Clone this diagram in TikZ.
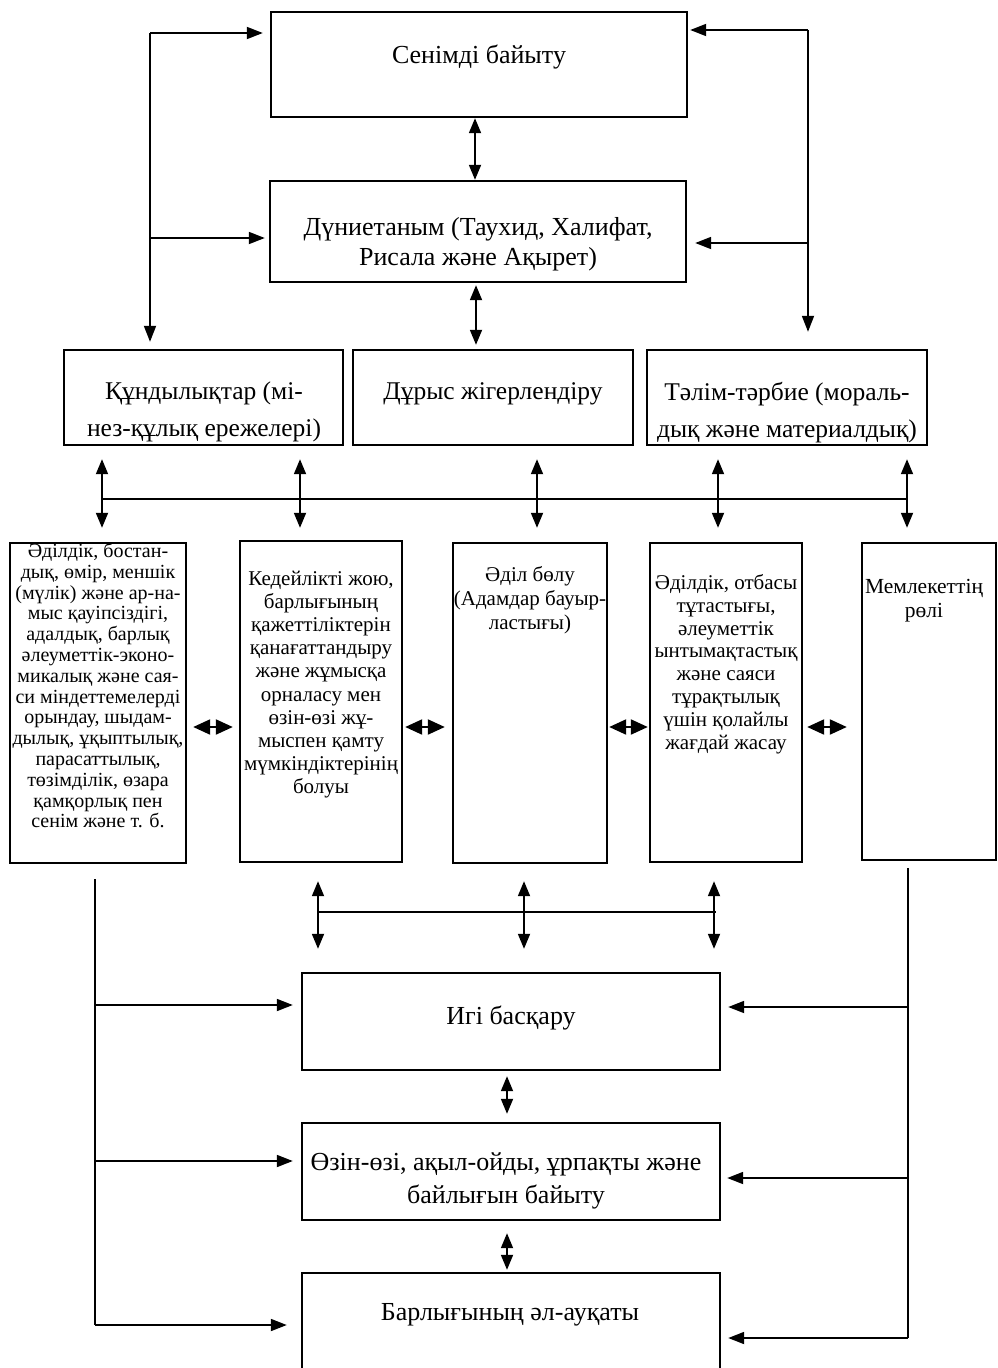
\documentclass[tikz,border=0pt]{standalone}
\usepackage{fontspec}
\setmainfont{Liberation Serif}
\usetikzlibrary{arrows.meta,fit}
\tikzset{
  box/.style={draw, line width=2.4pt, inner sep=0pt},
  txt/.style={inner sep=0pt, align=center, anchor=north},
  big/.style={font=\fontsize{26}{30}\selectfont},
  ln/.style={line width=1.8pt},
  arr/.style={ln, -{Triangle[length=16pt,width=12pt]}},
  dbl/.style={ln, {Triangle[length=15pt,width=12pt]}-{Triangle[length=15pt,width=12pt]}},
  hdbl/.style={line width=2.2pt, {Triangle[length=17pt,width=15pt]}-{Triangle[length=17pt,width=15pt]}},
}
\begin{document}
\begin{tikzpicture}[x=1pt,y=-1pt]
\useasboundingbox (0,0) rectangle (998,1368);
% boxes
\node[box, fit={(271,12) (687,117)}] (faith) {};
\node[box, fit={(270,181) (686,282)}] (world) {};
\node[box, fit={(64,350) (343,445)}] (values) {};
\node[box, fit={(353,350) (633,445)}] (motiv) {};
\node[box, fit={(647,350) (927,445)}] (educ) {};
\node[box, fit={(10,543) (186,863)}] (c1) {};
\node[box, fit={(240,541) (402,862)}] (c2) {};
\node[box, fit={(453,543) (607,863)}] (c3) {};
\node[box, fit={(650,543) (802,862)}] (c4) {};
\node[box, fit={(862,543) (996,860)}] (c5) {};
\node[box, fit={(302,973) (720,1070)}] (gov) {};
\node[box, fit={(302,1123) (720,1220)}] (self) {};
\node[box, fit={(302,1273) (720,1400)}] (well) {};
% texts
\node[txt, big] (faith-t) at (479,45) {Сенімді байыту};
\node[txt, big] (world-t) at (478,217) {Дүниетаным (Таухид, Халифат,\\Рисала және Ақырет)};
\node[txt, font=\fontsize{25.5}{37}\selectfont] (values-t) at (204,382) {Құндылықтар (мі-\\нез-құлық ережелері)};
\node[txt, font=\fontsize{25.5}{37}\selectfont] (motiv-t) at (493,382) {Дұрыс жігерлендіру};
\node[txt, font=\fontsize{25.5}{37}\selectfont] (educ-t) at (787,382) {Тәлім-тәрбие (мораль-\\дық және материалдық)};
\node[txt, font=\fontsize{20}{20.8}\selectfont] (c1-t) at (98,543) {Әділдік, бостан-\\дық, өмір, меншік\\(мүлік) және ар-на-\\мыс қауіпсіздігі,\\адалдық, барлық\\әлеуметтік-эконо-\\микалық және сая-\\си міндеттемелерді\\орындау, шыдам-\\дылық, ұқыптылық,\\парасаттылық,\\төзімділік, өзара\\қамқорлық пен\\сенім және т. б.};
\node[txt, font=\fontsize{21}{23.1}\selectfont] (c2-t) at (321,571) {Кедейлікті жою,\\барлығының\\қажеттіліктерін\\қанағаттандыру\\және жұмысқа\\орналасу мен\\өзін-өзі жұ-\\мыспен қамту\\мүмкіндіктерінің\\болуы};
\node[txt, font=\fontsize{21}{24}\selectfont] (c3-t) at (530,566) {Әділ бөлу\\(Адамдар бауыр-\\ластығы)};
\node[txt, font=\fontsize{21}{22.9}\selectfont] (c4-t) at (726,574) {Әділдік, отбасы\\тұтастығы,\\әлеуметтік\\ынтымақтастық\\және саяси\\тұрақтылық\\үшін қолайлы\\жағдай жасау};
\node[txt, font=\fontsize{21.5}{24}\selectfont] (c5-t) at (924,579) {Мемлекеттің\\рөлі};
\node[txt, big] (gov-t) at (511,1006) {Игі басқару};
\node[txt, font=\fontsize{26}{33}\selectfont] (self-t) at (506,1152) {Өзін-өзі, ақыл-ойды, ұрпақты және\\байлығын байыту};
\node[txt, big] (well-t) at (510,1303) {Барлығының әл-ауқаты};
% top connectors
\draw[dbl] ([xshift=-4pt]faith.south) -- ([xshift=-4pt]faith.south |- world.north);
\draw[dbl, shorten <=2pt, shorten >=4pt] ([xshift=-2pt]world.south) -- ([xshift=-2pt]world.south |- motiv.north);
\coordinate (L1) at (150,33);
\coordinate (L2) at (150,238);
\coordinate (R1) at (808,30);
\coordinate (R2) at (808,243);
\draw[ln] (L1) -- (L2);
\draw[arr, shorten >=7pt] (L2) -- (L2 |- values.north);
\draw[arr, shorten >=7pt] (L1) -- (L1 -| faith.west);
\draw[arr, shorten >=4pt] (L2) -- (L2 -| world.west);
\draw[ln] (R1) -- (R2);
\draw[arr, shorten >=17pt] (R2) -- (R2 |- educ.north);
\draw[arr, shorten >=2pt] (R1) -- (R1 -| faith.east);
\draw[arr, shorten >=8pt] (R2) -- (R2 -| world.east);
% upper bus
\coordinate (busL) at (102,499);
\coordinate (busR) at (907,499);
\draw[ln] (busL) -- (busR);
\draw[dbl, shorten <=13pt, shorten >=14pt] (102,0 |- values.south) -- (102,0 |- c1.north);
\draw[dbl, shorten <=13pt, shorten >=12pt] (300,0 |- values.south) -- (300,0 |- c2.north);
\draw[dbl, shorten <=13pt, shorten >=14pt] (537,0 |- motiv.south) -- (537,0 |- c3.north);
\draw[dbl, shorten <=13pt, shorten >=14pt] (718,0 |- educ.south) -- (718,0 |- c4.north);
\draw[dbl, shorten <=13pt, shorten >=14pt] (907,0 |- educ.south) -- (907,0 |- c5.north);
% short horizontal arrows
\draw[hdbl, shorten <=6pt, shorten >=6pt] (c1.east |- 0,727) -- (c2.west |- 0,727);
\draw[hdbl, shorten <=2pt, shorten >=7pt] (c2.east |- 0,727) -- (c3.west |- 0,727);
\draw[hdbl, shorten <=1pt, shorten >=1pt] (c3.east |- 0,727) -- (c4.west |- 0,727);
\draw[hdbl, shorten <=4pt, shorten >=14pt] (c4.east |- 0,727) -- (c5.west |- 0,727);
% lower bus
\coordinate (lbL) at (318,912);
\coordinate (lbR) at (716,912);
\draw[ln] (lbL) -- (lbR);
\draw[dbl, shorten <=18pt, shorten >=23pt] (318,0 |- c2.south) -- (318,0 |- gov.north);
\draw[dbl, shorten <=17pt, shorten >=23pt] (524,0 |- c3.south) -- (524,0 |- gov.north);
\draw[dbl, shorten <=18pt, shorten >=23pt] (714,0 |- c4.south) -- (714,0 |- gov.north);
\draw[dbl, shorten <=5pt, shorten >=8pt] (507,0 |- gov.south) -- (507,0 |- self.north);
\draw[dbl, shorten <=12pt, shorten >=2pt] (507,0 |- self.south) -- (507,0 |- well.north);
% side rails
\coordinate (BL0) at (95,879);
\coordinate (BL1) at (95,1005);
\coordinate (BL2) at (95,1161);
\coordinate (BL3) at (95,1325);
\coordinate (BR0) at (908,868);
\coordinate (BR1) at (908,1007);
\coordinate (BR2) at (908,1178);
\coordinate (BR3) at (908,1338);
\draw[ln] (BL0) -- (BL3);
\draw[ln] (BR0) -- (BR3);
\draw[arr, shorten >=8pt] (BL1) -- (BL1 -| gov.west);
\draw[arr, shorten >=8pt] (BL2) -- (BL2 -| self.west);
\draw[arr, shorten >=14pt] (BL3) -- (BL3 -| well.west);
\draw[arr, shorten >=7pt] (BR1) -- (BR1 -| gov.east);
\draw[arr, shorten >=6pt] (BR2) -- (BR2 -| self.east);
\draw[arr, shorten >=7pt] (BR3) -- (BR3 -| well.east);
\end{tikzpicture}
\end{document}
